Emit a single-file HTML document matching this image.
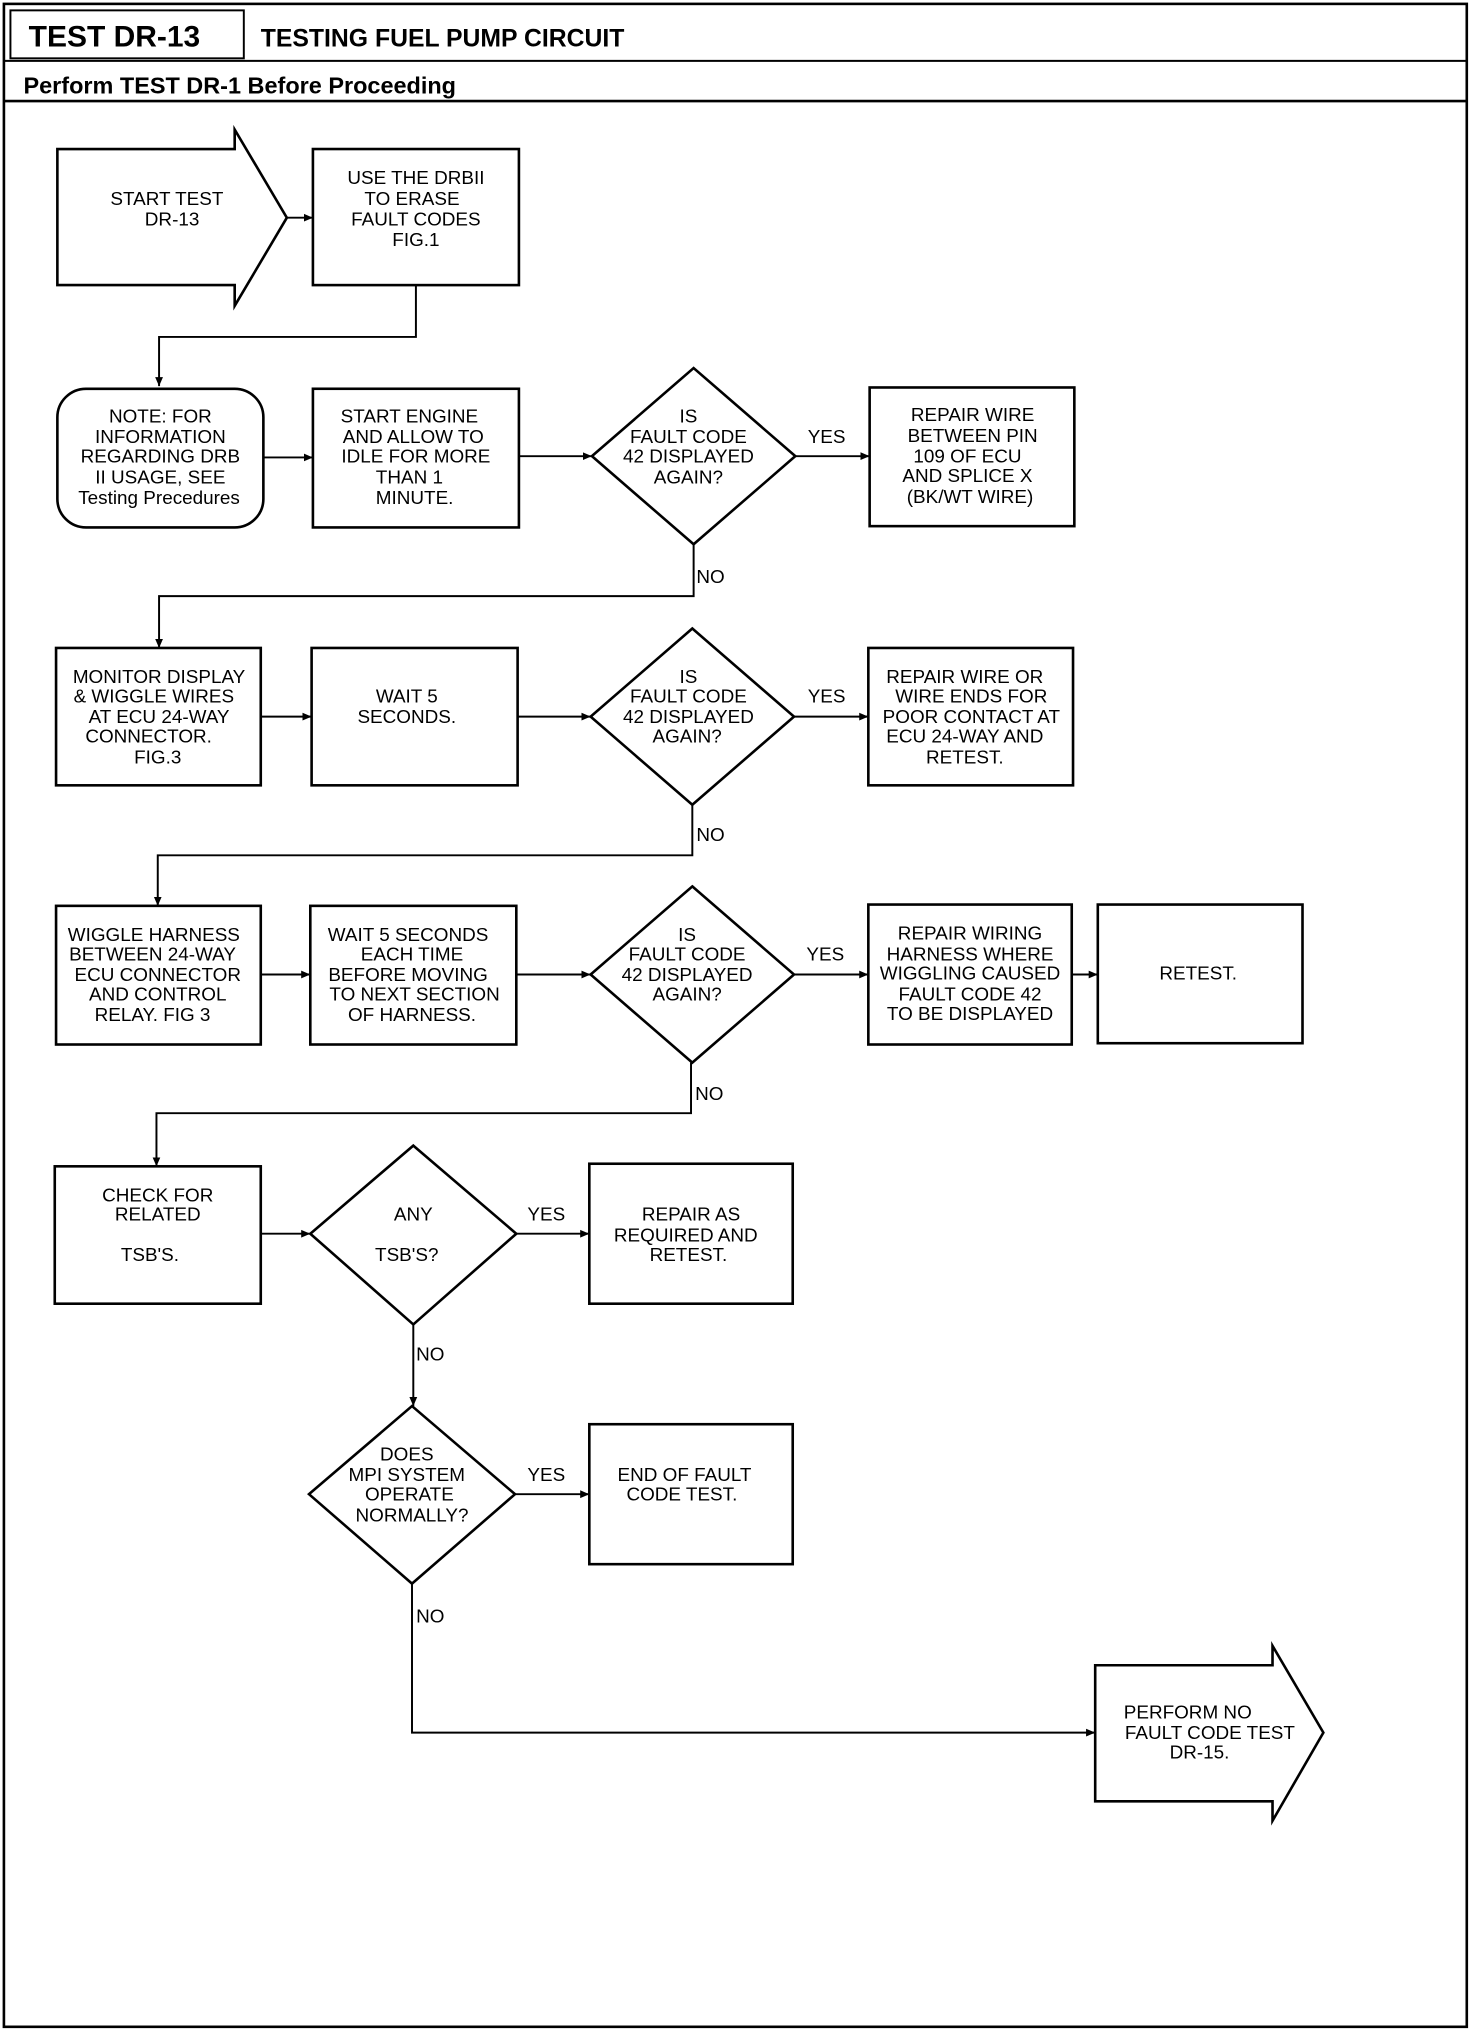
<!DOCTYPE html>
<html><head><meta charset="utf-8"><style>
html,body{margin:0;padding:0;background:#fff;}
svg{display:block;}
.t{font-family:"Liberation Sans",sans-serif;font-size:14.5px;text-anchor:middle;fill:#000;}
.h{font-family:"Liberation Sans",sans-serif;font-weight:bold;fill:#000;}
</style></head><body>
<svg width="1472" height="2032" viewBox="0 0 1129 1568" preserveAspectRatio="none" xmlns="http://www.w3.org/2000/svg">
<defs><marker id="a" markerWidth="8" markerHeight="8" refX="7" refY="4" orient="auto" markerUnits="userSpaceOnUse"><path d="M0,1 L7,4 L0,7 z" fill="#000"/></marker></defs>
<g fill="none" stroke="#000" stroke-width="2">
<rect x="3" y="3" width="1122" height="1561"/>
<rect x="8" y="8" width="179" height="37" stroke-width="1.5"/>
<line x1="3" y1="47" x2="1125" y2="47" stroke-width="1.5"/>
<line x1="3" y1="78" x2="1125" y2="78"/>
<!-- start arrow -->
<path d="M44,115 H180 V100 L220,168 L180,236 V220 H44 Z"/>
<rect x="240" y="115" width="158" height="105"/>
<line x1="220" y1="168" x2="240" y2="168" marker-end="url(#a)" stroke-width="1.5"/>
<path d="M319,220 V260 H122 V298" marker-end="url(#a)" stroke-width="1.5"/>
<!-- row1 -->
<rect x="44" y="300" width="158" height="107" rx="22"/>
<rect x="240" y="300" width="158" height="107"/>
<path d="M532,284 L610,352 L532,420 L454,352 Z"/>
<rect x="667" y="299" width="157" height="107"/>
<line x1="202" y1="353" x2="240" y2="353" marker-end="url(#a)" stroke-width="1.5"/>
<line x1="398" y1="352" x2="454" y2="352" marker-end="url(#a)" stroke-width="1.5"/>
<line x1="610" y1="352" x2="667" y2="352" marker-end="url(#a)" stroke-width="1.5"/>
<path d="M532,420 V460 H122 V500" marker-end="url(#a)" stroke-width="1.5"/>
<!-- row2 -->
<rect x="43" y="500" width="157" height="106"/>
<rect x="239" y="500" width="158" height="106"/>
<path d="M531,485 L609,553 L531,621 L453,553 Z"/>
<rect x="666" y="500" width="157" height="106"/>
<line x1="200" y1="553" x2="239" y2="553" marker-end="url(#a)" stroke-width="1.5"/>
<line x1="397" y1="553" x2="453" y2="553" marker-end="url(#a)" stroke-width="1.5"/>
<line x1="609" y1="553" x2="666" y2="553" marker-end="url(#a)" stroke-width="1.5"/>
<path d="M531,621 V660 H121 V699" marker-end="url(#a)" stroke-width="1.5"/>
<!-- row3 -->
<rect x="43" y="699" width="157" height="107"/>
<rect x="238" y="699" width="158" height="107"/>
<path d="M531,684 L609,752 L531,820 L453,752 Z"/>
<rect x="666" y="698" width="156" height="108"/>
<rect x="842" y="698" width="157" height="107"/>
<line x1="200" y1="752" x2="238" y2="752" marker-end="url(#a)" stroke-width="1.5"/>
<line x1="396" y1="752" x2="453" y2="752" marker-end="url(#a)" stroke-width="1.5"/>
<line x1="609" y1="752" x2="666" y2="752" marker-end="url(#a)" stroke-width="1.5"/>
<line x1="822" y1="752" x2="842" y2="752" marker-end="url(#a)" stroke-width="1.5"/>
<path d="M530,820 V859 H120 V900" marker-end="url(#a)" stroke-width="1.5"/>
<!-- row4 -->
<rect x="42" y="900" width="158" height="106"/>
<path d="M317,884 L396,952 L317,1022 L238,952 Z"/>
<rect x="452" y="898" width="156" height="108"/>
<line x1="200" y1="952" x2="238" y2="952" marker-end="url(#a)" stroke-width="1.5"/>
<line x1="396" y1="952" x2="452" y2="952" marker-end="url(#a)" stroke-width="1.5"/>
<line x1="317" y1="1022" x2="317" y2="1085" marker-end="url(#a)" stroke-width="1.5"/>
<!-- row5 -->
<path d="M316,1085 L395,1153 L316,1222 L237,1153 Z"/>
<rect x="452" y="1099" width="156" height="108"/>
<line x1="395" y1="1153" x2="452" y2="1153" marker-end="url(#a)" stroke-width="1.5"/>
<path d="M316,1222 V1337 H840" marker-end="url(#a)" stroke-width="1.5"/>
<path d="M840,1285 H976 V1270 L1015,1337 L976,1405 V1390 H840 Z"/>
</g>
<text class="h" x="22" y="36" font-size="23">TEST DR-13</text>
<text class="h" x="200" y="36" font-size="19">TESTING FUEL PUMP CIRCUIT</text>
<text class="h" x="18" y="72" font-size="18">Perform TEST DR-1 Before Proceeding</text>
<g class="t">
<text x="128" y="158">START TEST</text><text x="132" y="174">DR-13</text>
<text x="319" y="142">USE THE DRBII</text><text x="316" y="158">TO ERASE</text><text x="319" y="174">FAULT CODES</text><text x="319" y="190">FIG.1</text>
<text x="123" y="326">NOTE: FOR</text><text x="123" y="342">INFORMATION</text><text x="123" y="357">REGARDING DRB</text><text x="123" y="373">II USAGE, SEE</text><text x="122" y="389">Testing Precedures</text>
<text x="314" y="326">START ENGINE</text><text x="317" y="342">AND ALLOW TO</text><text x="319" y="357">IDLE FOR MORE</text><text x="314" y="373">THAN 1</text><text x="318" y="389">MINUTE.</text>
<text x="528" y="326">IS</text><text x="528" y="342">FAULT CODE</text><text x="528" y="357">42 DISPLAYED</text><text x="528" y="373">AGAIN?</text>
<text x="746" y="325">REPAIR WIRE</text><text x="746" y="341">BETWEEN PIN</text><text x="742" y="357">109 OF ECU</text><text x="742" y="372">AND SPLICE X</text><text x="744" y="388">(BK/WT WIRE)</text>
<text x="634" y="342">YES</text><text x="545" y="450">NO</text>
<text x="122" y="527">MONITOR DISPLAY</text><text x="118" y="542">&amp; WIGGLE WIRES</text><text x="122" y="558">AT ECU 24-WAY</text><text x="114" y="573">CONNECTOR.</text><text x="121" y="589">FIG.3</text>
<text x="312" y="542">WAIT 5</text><text x="312" y="558">SECONDS.</text>
<text x="528" y="527">IS</text><text x="528" y="542">FAULT CODE</text><text x="528" y="558">42 DISPLAYED</text><text x="527" y="573">AGAIN?</text>
<text x="740" y="527">REPAIR WIRE OR</text><text x="745" y="542">WIRE ENDS FOR</text><text x="745" y="558">POOR CONTACT AT</text><text x="740" y="573">ECU 24-WAY AND</text><text x="740" y="589">RETEST.</text>
<text x="634" y="542">YES</text><text x="545" y="649">NO</text>
<text x="118" y="726">WIGGLE HARNESS</text><text x="117" y="741">BETWEEN 24-WAY</text><text x="121" y="757">ECU CONNECTOR</text><text x="121" y="772">AND CONTROL</text><text x="117" y="788">RELAY. FIG 3</text>
<text x="313" y="726">WAIT 5 SECONDS</text><text x="316" y="741">EACH TIME</text><text x="313" y="757">BEFORE MOVING</text><text x="318" y="772">TO NEXT SECTION</text><text x="316" y="788">OF HARNESS.</text>
<text x="527" y="726">IS</text><text x="527" y="741">FAULT CODE</text><text x="527" y="757">42 DISPLAYED</text><text x="527" y="772">AGAIN?</text>
<text x="744" y="725">REPAIR WIRING</text><text x="744" y="741">HARNESS WHERE</text><text x="744" y="756">WIGGLING CAUSED</text><text x="744" y="772">FAULT CODE 42</text><text x="744" y="787">TO BE DISPLAYED</text>
<text x="919" y="756">RETEST.</text>
<text x="633" y="741">YES</text><text x="544" y="849">NO</text>
<text x="121" y="927">CHECK FOR</text><text x="121" y="942">RELATED</text><text x="115" y="973">TSB'S.</text>
<text x="317" y="942">ANY</text><text x="312" y="973">TSB'S?</text>
<text x="419" y="942">YES</text>
<text x="530" y="942">REPAIR AS</text><text x="526" y="958">REQUIRED AND</text><text x="528" y="973">RETEST.</text>
<text x="330" y="1050">NO</text>
<text x="312" y="1127">DOES</text><text x="312" y="1143">MPI SYSTEM</text><text x="314" y="1158">OPERATE</text><text x="316" y="1174">NORMALLY?</text>
<text x="419" y="1143">YES</text>
<text x="525" y="1143">END OF FAULT</text><text x="523" y="1158">CODE TEST.</text>
<text x="330" y="1252">NO</text>
<text x="911" y="1326">PERFORM NO</text><text x="928" y="1342">FAULT CODE TEST</text><text x="920" y="1357">DR-15.</text>
</g>
</svg>
</body></html>
